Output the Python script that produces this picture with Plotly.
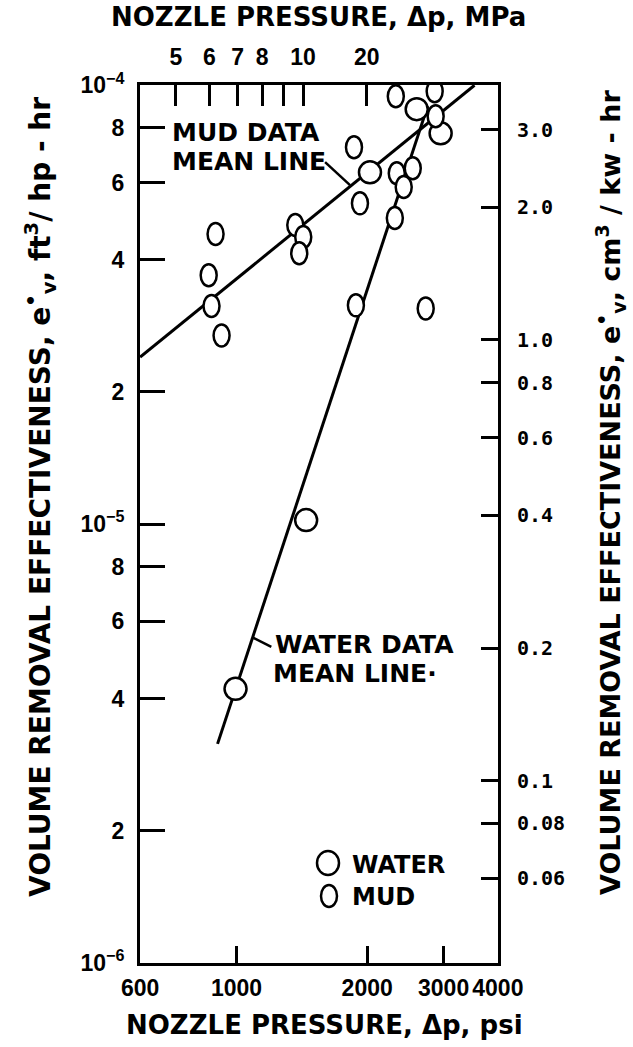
import math
import plotly.graph_objects as go

# ---------------- data ----------------
water_psi = [995, 1447, 2030, 2601, 2953]
water_ev = [4.21e-6, 1.021e-5, 6.33e-5, 8.82e-5, 7.77e-5]

mud_psi = [2328, 2861, 2876, 1865, 2340, 2547, 2428, 1925, 2316,
           1366, 1425, 895, 1395, 863, 876, 1884, 2728, 924]
mud_ev = [9.44e-5, 9.69e-5, 8.50e-5, 7.22e-5, 6.30e-5, 6.47e-5, 5.86e-5, 5.38e-5, 4.98e-5,
          4.80e-5, 4.51e-5, 4.58e-5, 4.14e-5, 3.69e-5, 3.14e-5, 3.15e-5, 3.10e-5, 2.69e-5]

mud_line_psi = [600, 3534]
mud_line_ev = [2.40e-5, 1.0e-4]
water_line_psi = [904.5, 2757]
water_line_ev = [3.154e-6, 8.96e-5]

mud_leader_psi = [1600, 1826]
mud_leader_ev = [6.68e-5, 5.92e-5]
water_leader_psi = [1094, 1203]
water_leader_ev = [5.50e-6, 5.246e-6]

x_psi_ticks = [600, 1000, 2000, 3000, 4000]
x_psi_text = ["600", "1000", "2000", "3000", "4000"]
x_mpa_ticks = [5, 6, 7, 8, 9, 10, 14.16]
x_mpa_text = ["5", "6", "7", "8", "", "10", "20"]
y_ft_ticks = [1e-6, 2e-6, 4e-6, 6e-6, 8e-6, 1e-5, 2e-5, 4e-5, 6e-5, 8e-5, 1e-4]
y_ft_text = ["10<sup>\u22126</sup>", "2", "4", "6", "8", "10<sup>\u22125</sup>",
             "2", "4", "6", "8", "10<sup>\u22124</sup>"]
y_cm_ticks = [0.06, 0.08, 0.1, 0.2, 0.4, 0.6, 0.8, 1, 2, 3]
y_cm_text = ["0.06", "0.08", "0.1", "0.2", "0.4", "0.6", "0.8", "1.0", "2.0", "3.0"]

# ---------------- geometry ----------------
W, H = 633, 1047
L, R, T, B = 140, 498, 85, 963
X_RANGE = [math.log10(599.5), math.log10(4003)]
Y_RANGE = [-6.0005, -3.9995]


def px(xp):
    return (xp - L) / (R - L)


def py(yp):
    return (B - yp) / (B - T)


# mud symbol half-size (pixels) expressed as a factor on the log axes
PXDEC_X = (R - L) / (X_RANGE[1] - X_RANGE[0])
PXDEC_Y = (B - T) / (Y_RANGE[1] - Y_RANGE[0])
KX = 10 ** (8.0 / PXDEC_X)
KY = 10 ** (11.0 / PXDEC_Y)

TXT = dict(family="DejaVu Sans", size=25, color="black", weight="bold")
TICKF = dict(family="Liberation Sans", size=23, color="black", weight="bold")
TICKR = dict(family="DejaVu Sans Mono", size=20, color="black", weight="bold")

fig = go.Figure()

fig.add_trace(go.Scatter(x=mud_line_psi, y=mud_line_ev, mode="lines",
                         line=dict(color="black", width=3), name="Mud data mean line",
                         showlegend=False))
fig.add_trace(go.Scatter(x=water_line_psi, y=water_line_ev, mode="lines",
                         line=dict(color="black", width=3), name="Water data mean line",
                         showlegend=False))
fig.add_trace(go.Scatter(x=mud_leader_psi, y=mud_leader_ev, mode="lines",
                         line=dict(color="black", width=2.5), showlegend=False))
fig.add_trace(go.Scatter(x=water_leader_psi, y=water_leader_ev, mode="lines",
                         line=dict(color="black", width=2.5), showlegend=False))
fig.add_trace(go.Scatter(x=water_psi, y=water_ev, mode="markers", name="WATER",
                         marker=dict(symbol="circle", size=22, color="white",
                                     line=dict(color="black", width=2.5)),
                         showlegend=False))
# empty trace so the secondary (MPa / cm3 per kW-hr) axes are drawn
fig.add_trace(go.Scatter(x=[], y=[], xaxis="x2", yaxis="y2", showlegend=False,
                         hoverinfo="skip"))

shapes = []
for xv, yv in zip(mud_psi, mud_ev):
    shapes.append(dict(type="circle", xref="x", yref="y",
                       x0=xv / KX, x1=xv * KX, y0=yv / KY, y1=yv * KY,
                       line=dict(color="black", width=2.5), fillcolor="white", layer="above"))
# manual legend symbols
shapes.append(dict(type="circle", xref="paper", yref="paper", xsizemode="pixel", ysizemode="pixel",
                   xanchor=px(328), yanchor=py(863), x0=-11, x1=11, y0=-12, y1=12,
                   line=dict(color="black", width=2.5), fillcolor="white"))
shapes.append(dict(type="circle", xref="paper", yref="paper", xsizemode="pixel", ysizemode="pixel",
                   xanchor=px(329), yanchor=py(896), x0=-8, x1=8, y0=-11, y1=11,
                   line=dict(color="black", width=2.5), fillcolor="white"))

ann = []


def text(s, x, y, xanchor="left", size=25, angle=0):
    f = dict(TXT)
    f["size"] = size
    ann.append(dict(text=s, x=px(x), y=py(y), xref="paper", yref="paper", showarrow=False,
                    xanchor=xanchor, yanchor="middle", font=f, textangle=angle))


text("MUD DATA", 170, 132.5)
text("MEAN LINE", 170, 161)
text("WATER DATA", 273, 644)
text("MEAN LINE\u00b7", 271, 673)
text("WATER", 350, 865, size=24)
text("MUD", 350, 897, size=24)
text("NOZZLE PRESSURE, \u0394p, MPa", 318, 17, xanchor="center", size=26)
text("NOZZLE PRESSURE, \u0394p, psi", 324, 1025, xanchor="center", size=26)
text("VOLUME REMOVAL EFFECTIVENESS, e<sup>\u2022</sup><sub>v</sub>, ft<sup>3</sup>/ hp - hr",
     40, 497, xanchor="center", size=28, angle=-90)
text("VOLUME REMOVAL EFFECTIVENESS, e<sup>\u2022</sup><sub>v</sub>, cm<sup>3</sup> / kw - hr",
     610, 493, xanchor="center", size=27, angle=-90)

axis_common = dict(showgrid=False, zeroline=False, showline=True, linecolor="black",
                   linewidth=3, ticks="inside", tickcolor="black", tickwidth=3,
                   tickmode="array", tickangle=0)

fig.update_layout(
    width=W, height=H, autosize=False,
    margin=dict(l=L, r=W - R, t=T, b=H - B, pad=0),
    paper_bgcolor="white", plot_bgcolor="white",
    showlegend=False,
    xaxis=dict(axis_common, type="log", range=X_RANGE,
               tickvals=x_psi_ticks, ticktext=x_psi_text, ticklen=17, tickfont=TICKF,
               ticklabelstandoff=2),
    xaxis2=dict(axis_common, type="log", overlaying="x", side="top", anchor="y",
                range=[0.6137, 1.462], tickvals=x_mpa_ticks, ticktext=x_mpa_text,
                ticklen=21, tickfont=TICKF, ticklabelstandoff=8),
    yaxis=dict(axis_common, type="log", range=Y_RANGE,
               tickvals=y_ft_ticks, ticktext=y_ft_text, ticklen=25, tickfont=TICKF,
               ticklabelstandoff=8),
    yaxis2=dict(axis_common, type="log", overlaying="y", side="right", anchor="x",
                range=[-1.4137, 0.5786], tickvals=y_cm_ticks, ticktext=y_cm_text,
                ticklen=17, tickfont=TICKR, ticklabelstandoff=12),
    shapes=shapes,
    annotations=ann,
)

fig.write_html("out.html", config={"displayModeBar": False},
               post_script="document.body.style.margin='0px';")
